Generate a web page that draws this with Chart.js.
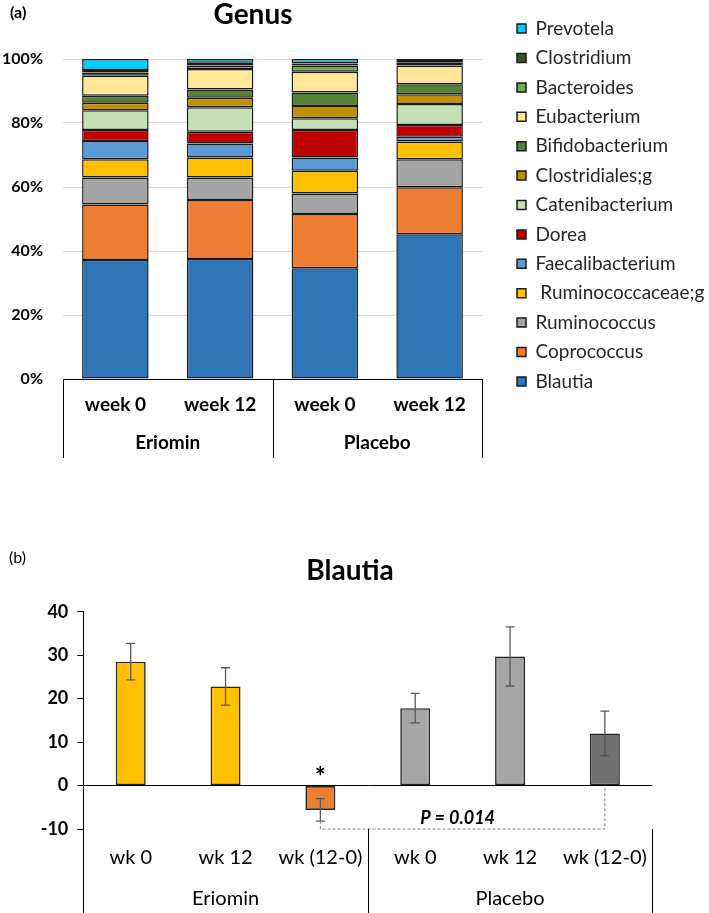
<!DOCTYPE html>
<html>
<head>
<meta charset="utf-8">
<script src="https://cdn.jsdelivr.net/npm/chart.js@4.4.1/dist/chart.umd.min.js"></script>
<style>
  body { margin: 0; background: #fff; }
  .panel { position: absolute; left: 0; width: 709px; }
  #panelA { top: 0; height: 470px; }
  #panelB { top: 470px; height: 443px; }
</style>
</head>
<body>
<div class="panel" id="panelA"><canvas id="genusChart"></canvas></div>
<div class="panel" id="panelB"><canvas id="blautiaChart"></canvas></div>
<script>
// ---- panel (a): relative abundance per genus (%)
const weeks = ['week 0', 'week 12', 'week 0', 'week 12'];
const groups = ['Eriomin', 'Placebo'];

const blautia          = [37.2, 37.5, 34.6, 45.2];
const coprococcus      = [17.3, 18.4, 17.0, 14.7];
const ruminococcus     = [8.5, 7.1, 6.4, 8.8];
const ruminococcaceae  = [5.7, 6.2, 7.1, 5.5];
const faecalibacterium = [5.7, 4.4, 4.1, 1.5];
const dorea            = [3.4, 3.7, 8.6, 3.7];
const catenibacterium  = [6.2, 7.6, 3.7, 6.5];
const clostridiales    = [2.3, 3.0, 3.8, 3.1];
const bifidobacterium  = [2.2, 2.6, 4.2, 3.1];
const eubacterium      = [6.3, 6.4, 6.5, 5.9];
const bacteroides      = [1.0, 1.1, 2.0, 0.8];
const clostridium      = [0.8, 0.8, 0.6, 0.6];
const prevotela        = [3.4, 1.2, 1.4, 0.6];

const genusNames = ['Blautia', 'Coprococcus', 'Ruminococcus', ' Ruminococcaceae;g', 'Faecalibacterium',
    'Dorea', 'Catenibacterium', 'Clostridiales;g', 'Bifidobacterium', 'Eubacterium',
    'Bacteroides', 'Clostridium', 'Prevotela'];
const genusSeries = [blautia, coprococcus, ruminococcus, ruminococcaceae, faecalibacterium,
    dorea, catenibacterium, clostridiales, bifidobacterium, eubacterium,
    bacteroides, clostridium, prevotela];
const genusColors = ['#2E75B6', '#ED7D31', '#A5A5A5', '#FFC000', '#5B9BD5',
    '#C00000', '#C5E0B4', '#BF9000', '#548235', '#FFE699',
    '#70AD47', '#375623', '#00CCFF'];

// ---- panel (b): Blautia abundance with SE
const wkLabels = ['wk 0', 'wk 12', 'wk (12-0)', 'wk 0', 'wk 12', 'wk (12-0)'];
const blautiaMean = [28.5, 22.8, -5.6, 17.8, 29.7, 12.0];
const blautiaErr  = [4.2, 4.3, 2.6, 3.4, 6.8, 5.1];
const blautiaColors = ['#FFC000', '#FFC000', '#ED7D31', '#A6A6A6', '#A6A6A6', '#717171'];

Chart.defaults.font.family = 'Lato';
Chart.defaults.color = '#000';

// panel letters and titles
const panelText = {
    id: 'panelText',
    afterDraw(chart, args, opts) {
        const ctx = chart.ctx;
        ctx.save();
        ctx.fillStyle = '#000';
        ctx.textBaseline = 'middle';
        opts.items.forEach(function(t) {
            ctx.font = t.font;
            ctx.textAlign = t.align || 'left';
            ctx.fillText(t.text, t.x, t.y);
        });
        ctx.restore();
    }
};

// vertical lines that split the category labels into groups
const groupLines = {
    id: 'groupLines',
    afterDraw(chart, args, opts) {
        const x = chart.scales.x;
        const area = chart.chartArea;
        const ctx = chart.ctx;
        ctx.save();
        ctx.strokeStyle = '#000';
        ctx.lineWidth = 1;
        ctx.beginPath();
        opts.bounds.forEach(function(v) {
            const px = Math.round(x.getPixelForValue(v)) + 0.5;
            ctx.moveTo(px, area.bottom);
            ctx.lineTo(px, area.bottom + opts.length);
        });
        ctx.stroke();
        ctx.restore();
    }
};

// fixed legend width so the boxes line up with the original
const legendWidth = {
    id: 'legendWidth',
    beforeInit(chart, args, opts) {
        const fit = chart.legend.fit;
        chart.legend.fit = function() {
            fit.call(this);
            this.width = opts.width;
        };
    }
};

const errorBars = {
    id: 'errorBars',
    afterDatasetsDraw(chart) {
        const y = chart.scales.y;
        const meta = chart.getDatasetMeta(0);
        const ctx = chart.ctx;
        ctx.save();
        ctx.strokeStyle = '#595959';
        ctx.lineWidth = 1.3;
        meta.data.forEach(function(bar, i) {
            const top = y.getPixelForValue(blautiaMean[i] + blautiaErr[i]);
            const bot = y.getPixelForValue(blautiaMean[i] - blautiaErr[i]);
            ctx.beginPath();
            ctx.moveTo(bar.x, top); ctx.lineTo(bar.x, bot);
            ctx.moveTo(bar.x - 4.5, top); ctx.lineTo(bar.x + 4.5, top);
            ctx.moveTo(bar.x - 4.5, bot); ctx.lineTo(bar.x + 4.5, bot);
            ctx.stroke();
        });

        // dashed bracket between the two (12-0) bars
        const a = meta.data[2], b = meta.data[5];
        const base = y.getPixelForValue(-10);
        ctx.strokeStyle = '#808080';
        ctx.lineWidth = 1;
        ctx.setLineDash([3, 2]);
        ctx.beginPath();
        ctx.moveTo(a.x, y.getPixelForValue(blautiaMean[2] - blautiaErr[2]));
        ctx.lineTo(a.x, base);
        ctx.lineTo(b.x, base);
        ctx.lineTo(b.x, y.getPixelForValue(0));
        ctx.stroke();
        ctx.setLineDash([]);

        ctx.fillStyle = '#000';
        ctx.textAlign = 'center';
        ctx.textBaseline = 'middle';
        ctx.font = 'italic bold 18px Lato';
        ctx.fillText('P = 0.014', (a.x + b.x) / 2 - 5, base - 11);
        ctx.font = 'bold 26px Lato';
        ctx.fillText('*', a.x, y.getPixelForValue(0) - 8);
        ctx.restore();
    }
};

function generateGenusChart(canvasId) {
    const datasets = genusNames.map(function(name, i) {
        return {
            label: name,
            data: genusSeries[i],
            backgroundColor: genusColors[i],
            borderColor: '#1a1a1a',
            borderWidth: 1.5,
            borderSkipped: false,
            barPercentage: 0.635,
            categoryPercentage: 1,
            xAxisID: 'x',
            yAxisID: 'y'
        };
    });

    const config = {
        type: 'bar',
        data: { labels: weeks, datasets: datasets },
        options: {
            responsive: true,
            maintainAspectRatio: false,
            animation: false,
            layout: { padding: { top: 8.7, bottom: 15, left: 0, right: 0 } },
            plugins: {
                title: {
                    display: true,
                    text: '',
                    fullSize: false,
                    font: { size: 10, lineHeight: 1 },
                    padding: { top: 0, bottom: 40.3 }
                },
                legend: {
                    position: 'right',
                    align: 'start',
                    reverse: true,
                    labels: {
                        font: { size: 19 },
                        color: '#262626',
                        boxWidth: 9,
                        boxHeight: 9,
                        padding: 10.4
                    }
                },
                legendWidth: { width: 202.4 },
                tooltip: { enabled: false },
                groupLines: { bounds: [-0.5, 1.5, 3.5], length: 79 },
                panelText: {
                    items: [
                        { text: '(a)', x: 10, y: 13, font: 'bold 16px Lato' },
                        { text: 'Genus', x: 253, y: 15, font: 'bold 28px Lato', align: 'center' }
                    ]
                }
            },
            scales: {
                x: {
                    stacked: true,
                    weight: 0,
                    grid: { display: false, drawTicks: false },
                    border: { display: true, color: '#000', width: 1 },
                    ticks: {
                        padding: 14.6,
                        autoSkip: false,
                        maxRotation: 0,
                        font: { size: 19, weight: 'bold' }
                    }
                },
                x2: {
                    type: 'category',
                    labels: groups,
                    position: 'bottom',
                    weight: 1,
                    offset: true,
                    grid: { display: false, drawTicks: false },
                    border: { display: false },
                    ticks: {
                        padding: 0.6,
                        autoSkip: false,
                        maxRotation: 0,
                        font: { size: 19, weight: 'bold' }
                    }
                },
                y: {
                    stacked: true,
                    min: 0,
                    max: 100,
                    grid: { color: '#d9d9d9', drawTicks: false },
                    border: { display: false },
                    ticks: {
                        stepSize: 20,
                        padding: 20,
                        font: { size: 16, weight: 'bold' },
                        callback: function(value) {
                            return value + '%';
                        }
                    },
                    afterFit: function(scale) { scale.width = 63; }
                },
                y2: {
                    position: 'right',
                    grid: { display: false },
                    border: { display: false },
                    ticks: { display: false },
                    afterFit: function(scale) { scale.width = 24.6; }
                }
            }
        },
        plugins: [panelText, legendWidth, groupLines]
    };

    return new Chart(document.getElementById(canvasId), config);
}

function generateBlautiaChart(canvasId) {
    const config = {
        type: 'bar',
        data: {
            labels: wkLabels,
            datasets: [{
                label: 'Blautia',
                data: blautiaMean,
                backgroundColor: blautiaColors,
                borderColor: '#262626',
                borderWidth: 1.6,
                borderSkipped: false,
                barPercentage: 0.316,
                categoryPercentage: 1,
                xAxisID: 'x',
                yAxisID: 'y'
            }]
        },
        options: {
            responsive: true,
            maintainAspectRatio: false,
            animation: false,
            layout: { padding: { top: 141.7, right: 56.7, bottom: 2.6, left: 0 } },
            plugins: {
                legend: { display: false },
                tooltip: { enabled: false },
                groupLines: { bounds: [-0.5, 2.5, 5.5], length: 90 },
                panelText: {
                    items: [
                        { text: '(b)', x: 9, y: 88, font: '16px Lato' },
                        { text: 'Blautia', x: 350, y: 101, font: 'bold 28px Lato', align: 'center' }
                    ]
                }
            },
            scales: {
                x: {
                    weight: 0,
                    grid: { display: false, drawTicks: false },
                    border: { display: false },
                    ticks: {
                        padding: 16.7,
                        autoSkip: false,
                        maxRotation: 0,
                        font: { size: 20 }
                    }
                },
                x2: {
                    type: 'category',
                    labels: groups,
                    position: 'bottom',
                    weight: 1,
                    offset: true,
                    grid: { display: false, drawTicks: false },
                    border: { display: false },
                    ticks: {
                        padding: 0,
                        autoSkip: false,
                        maxRotation: 0,
                        font: { size: 20 }
                    }
                },
                y: {
                    min: -10,
                    max: 40,
                    grid: {
                        color: function(ctx) {
                            return ctx.tick && ctx.tick.value === 0 ? '#000' : 'transparent';
                        },
                        tickColor: '#000',
                        tickLength: 6,
                        lineWidth: 1
                    },
                    border: { display: true, color: '#000', width: 1 },
                    ticks: {
                        stepSize: 10,
                        padding: 9,
                        font: { size: 18, weight: 'bold' }
                    },
                    afterFit: function(scale) { scale.width = 83.3; }
                }
            }
        },
        plugins: [panelText, errorBars, groupLines]
    };

    return new Chart(document.getElementById(canvasId), config);
}

generateGenusChart('genusChart');
generateBlautiaChart('blautiaChart');
</script>
</body>
</html>
